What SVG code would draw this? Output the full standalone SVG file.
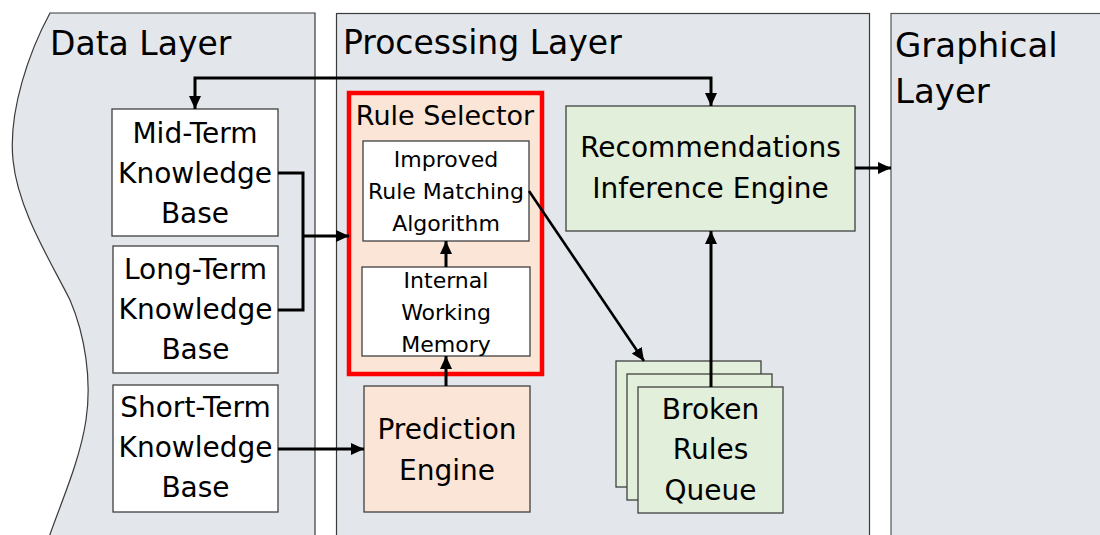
<svg xmlns="http://www.w3.org/2000/svg" width="1100" height="535" viewBox="0 0 1100 535">
  <style>
    .panel { fill: #E3E6EA; stroke: #3a3a3a; stroke-width: 1.2; }
    .title { font-family: "DejaVu Sans", "Liberation Sans", sans-serif; font-size: 32px; fill: #000; }
    .box { stroke: #404040; stroke-width: 1.3; }
    .white { fill: #FFFFFF; }
    .peach { fill: #FBE5D6; }
    .green { fill: #E2EFDA; }
    .t28 { font-family: "DejaVu Sans", "Liberation Sans", sans-serif; font-size: 28px; fill: #000; text-anchor: middle; }
    .t22 { font-family: "DejaVu Sans", "Liberation Sans", sans-serif; font-size: 22px; fill: #000; text-anchor: middle; }
    .conn { fill: none; stroke: #000; stroke-width: 3; }
  </style>
  <defs>
    <marker id="arr" markerUnits="userSpaceOnUse" markerWidth="14" markerHeight="12" refX="13" refY="6" orient="auto-start-reverse">
      <path d="M0,0 L13,6 L0,12 Z" fill="#000"/>
    </marker>
  </defs>

  <g id="data-layer">
    <path class="panel" d="M50,13 C30,50 8,110 13,160 C18,210 50,260 70,300 C85,335 92,380 86,420 C80,460 62,500 48,540 L315,540 L315,13 Z"/>
    <text class="title" x="50" y="55" style="font-size:33px">Data Layer</text>
  </g>
  <g id="processing-layer">
    <rect class="panel" x="336.5" y="13.5" width="533" height="530"/>
    <text class="title" x="343" y="54" style="font-size:33px">Processing Layer</text>
  </g>
  <g id="graphical-layer">
    <rect class="panel" x="891" y="13.5" width="215" height="530" style="stroke:#555"/>
    <text class="title" x="895" y="57" style="font-size:34px">Graphical</text>
    <text class="title" x="895" y="103" style="font-size:34px">Layer</text>
  </g>

  <g id="mid-term-kb">
    <rect class="box white" x="112" y="109" width="166" height="127"/>
    <text class="t28" x="195" y="143">Mid-Term</text>
    <text class="t28" x="195" y="183">Knowledge</text>
    <text class="t28" x="195" y="223">Base</text>
  </g>
  <g id="long-term-kb">
    <rect class="box white" x="113" y="246" width="165" height="127"/>
    <text class="t28" x="195.5" y="279">Long-Term</text>
    <text class="t28" x="195.5" y="319">Knowledge</text>
    <text class="t28" x="195.5" y="359">Base</text>
  </g>
  <g id="short-term-kb">
    <rect class="box white" x="113" y="385" width="165" height="127"/>
    <text class="t28" x="195.5" y="417">Short-Term</text>
    <text class="t28" x="195.5" y="457">Knowledge</text>
    <text class="t28" x="195.5" y="497">Base</text>
  </g>

  <g id="rule-selector">
    <rect x="349" y="93" width="193" height="281" fill="#FBE5D6" stroke="#FF0000" stroke-width="4.5"/>
    <text class="t28" x="445" y="125" style="font-size:27px">Rule Selector</text>
  </g>
  <g id="improved-rule-matching">
    <rect class="box white" x="363" y="141" width="166" height="100"/>
    <text class="t22" x="446" y="167">Improved</text>
    <text class="t22" x="446" y="199">Rule Matching</text>
    <text class="t22" x="446" y="231">Algorithm</text>
  </g>
  <g id="internal-working-memory">
    <rect class="box white" x="362" y="267" width="168" height="89"/>
    <text class="t22" x="446" y="288">Internal</text>
    <text class="t22" x="446" y="320">Working</text>
    <text class="t22" x="446" y="352">Memory</text>
  </g>
  <g id="prediction-engine">
    <rect class="box peach" x="364" y="386" width="166" height="126"/>
    <text class="t28" x="447" y="439">Prediction</text>
    <text class="t28" x="447" y="480">Engine</text>
  </g>
  <g id="recommendations-inference-engine">
    <rect class="box green" x="566" y="106" width="289" height="125"/>
    <text class="t28" x="710.5" y="157">Recommendations</text>
    <text class="t28" x="710.5" y="198">Inference Engine</text>
  </g>
  <g id="broken-rules-queue">
    <rect class="box green" x="616" y="361" width="145" height="126"/>
    <rect class="box green" x="627" y="374" width="145" height="126"/>
    <rect class="box green" x="638" y="387" width="145" height="126"/>
    <text class="t28" x="710.5" y="419">Broken</text>
    <text class="t28" x="710.5" y="459">Rules</text>
    <text class="t28" x="710.5" y="500">Queue</text>
  </g>

  <g id="connectors">
    <path class="conn" d="M195,109 V78 H711 V106" marker-start="url(#arr)" marker-end="url(#arr)"/>
    <path class="conn" d="M278,173 H303 V310 H278"/>
    <path class="conn" d="M303,236 H349" marker-end="url(#arr)"/>
    <path class="conn" d="M278,449 H364" marker-end="url(#arr)"/>
    <path class="conn" d="M446,386 V356" marker-end="url(#arr)"/>
    <path class="conn" d="M446,267 V241" marker-end="url(#arr)"/>
    <path class="conn" d="M529,191 L644,361" style="stroke-width:2.6" marker-end="url(#arr)"/>
    <path class="conn" d="M711,387 V231" marker-end="url(#arr)"/>
    <path class="conn" d="M855,168 H891" marker-end="url(#arr)"/>
  </g>
</svg>
